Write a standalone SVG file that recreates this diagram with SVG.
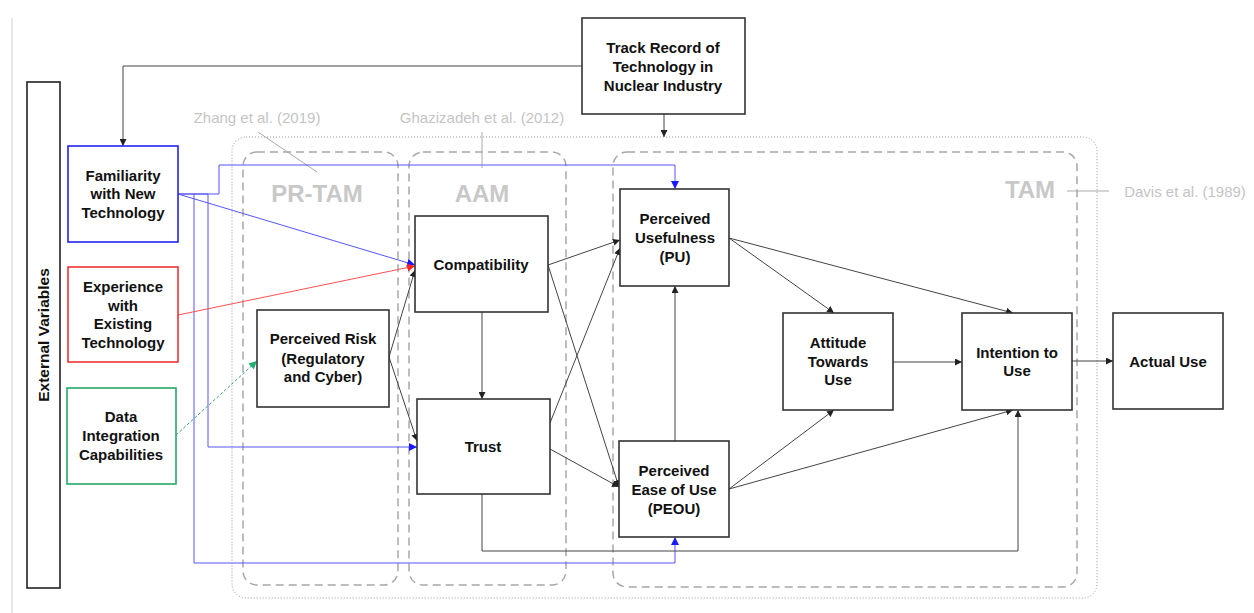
<svg xmlns="http://www.w3.org/2000/svg" width="1254" height="613" viewBox="0 0 1254 613">
<defs>
<marker id="ak" viewBox="0 0 10 10" refX="10" refY="5" markerWidth="7" markerHeight="7" orient="auto" markerUnits="userSpaceOnUse"><path d="M0,0 L10,5 L0,10 z" fill="#222"/></marker>
<marker id="ab" viewBox="0 0 10 10" refX="10" refY="5" markerWidth="8" markerHeight="8" orient="auto" markerUnits="userSpaceOnUse"><path d="M0,0 L10,5 L0,10 z" fill="#1a1aff"/></marker>
<marker id="ar" viewBox="0 0 10 10" refX="10" refY="5" markerWidth="8" markerHeight="8" orient="auto" markerUnits="userSpaceOnUse"><path d="M0,0 L10,5 L0,10 z" fill="#ff2020"/></marker>
<marker id="ag" viewBox="0 0 10 10" refX="10" refY="5" markerWidth="8" markerHeight="8" orient="auto" markerUnits="userSpaceOnUse"><path d="M0,0 L10,5 L0,10 z" fill="#20b070"/></marker>
</defs>
<style>
.box{fill:#fff;stroke:#333;stroke-width:1.6}
.t{font-family:"Liberation Sans",Arial,sans-serif;font-weight:bold;font-size:15px;fill:#111;text-anchor:middle}
.lab{font-family:"Liberation Sans",Arial,sans-serif;font-weight:bold;font-size:24px;fill:#c8c8c8;text-anchor:middle}
.cit{font-family:"Liberation Sans",Arial,sans-serif;font-size:15px;fill:#c4c4c4;text-anchor:middle}
.dash{fill:none;stroke:#a8a8a8;stroke-width:1.5;stroke-dasharray:8 5}
.c{fill:none;stroke:#444;stroke-width:1}
.cb{fill:none;stroke:#5555ff;stroke-width:1}
</style>
<rect width="1254" height="613" fill="#fff"/>
<line x1="12" y1="18" x2="12" y2="613" stroke="#d0d0d0" stroke-width="1"/>

<g id="frames">
<rect x="232" y="137" width="865" height="461" rx="14" fill="none" stroke="#999" stroke-width="1" stroke-dasharray="1 2"/>
<rect id="pr-tam" x="243" y="152" width="155" height="433" rx="14" class="dash"/>
<rect id="aam" x="409" y="152" width="157" height="433" rx="14" class="dash"/>
<rect id="tam" x="613" y="152" width="464" height="435" rx="14" class="dash"/>
<text class="lab" x="317" y="202">PR-TAM</text>
<text class="lab" x="482" y="202">AAM</text>
<text class="lab" x="1030" y="198">TAM</text>
<text class="cit" x="257" y="123">Zhang et al. (2019)</text>
<text class="cit" x="482" y="123">Ghazizadeh et al. (2012)</text>
<text class="cit" x="1185" y="197">Davis et al. (1989)</text>
<line x1="258" y1="132" x2="317" y2="172" stroke="#aaa" stroke-width="1"/>
<line x1="482" y1="132" x2="482" y2="168" stroke="#aaa" stroke-width="1"/>
<line x1="1067" y1="191" x2="1109" y2="191" stroke="#aaa" stroke-width="1"/>
</g>

<g id="connectors">
<path class="c" d="M582,66 H123 V146" marker-end="url(#ak)"/>
<path class="c" d="M664,114 V137" marker-end="url(#ak)"/>
<path class="cb" d="M178,194 H219 V165 H675 V189" marker-end="url(#ab)"/>
<path class="cb" d="M178,194 L415,265" marker-end="url(#ab)"/>
<path class="cb" d="M178,194 H208 V447 H417" marker-end="url(#ab)"/>
<path class="cb" d="M194,194 V563 H675 V537" marker-end="url(#ab)"/>
<path d="M178,315 L415,266" fill="none" stroke="#ff5050" stroke-width="1" marker-end="url(#ar)"/>
<path d="M176,435 L257,361" fill="none" stroke="#40a080" stroke-width="1" stroke-dasharray="3 2" marker-end="url(#ag)"/>
<path class="c" d="M389,357 L415,270" marker-end="url(#ak)"/>
<path class="c" d="M389,357 L417,441" marker-end="url(#ak)"/>
<path class="c" d="M482,312 V399" marker-end="url(#ak)"/>
<path class="c" d="M548,265 L620,240" marker-end="url(#ak)"/>
<path class="c" d="M548,265 L619,487" marker-end="url(#ak)"/>
<path class="c" d="M550,423 L620,248" marker-end="url(#ak)"/>
<path class="c" d="M550,449 L619,487" marker-end="url(#ak)"/>
<path class="c" d="M482,494 V551 H1018 V410" marker-end="url(#ak)"/>
<path class="c" d="M675,441 V286" marker-end="url(#ak)"/>
<path class="c" d="M729,238 L834,313" marker-end="url(#ak)"/>
<path class="c" d="M729,238 L1013,313" marker-end="url(#ak)"/>
<path class="c" d="M893,362 H962" marker-end="url(#ak)"/>
<path class="c" d="M729,489 L834,410" marker-end="url(#ak)"/>
<path class="c" d="M729,489 L1013,410" marker-end="url(#ak)"/>
<path class="c" d="M1072,361 H1113" marker-end="url(#ak)"/>
</g>

<g id="external-variables">
<rect x="27" y="82" width="33" height="506" fill="#fff" stroke="#222" stroke-width="1.6"/>
<text class="t" transform="translate(49,335) rotate(-90)" style="font-size:15.5px">External Variables</text>
</g>
<g id="familiarity">
<rect x="68" y="146" width="110" height="96" fill="#fff" stroke="#2222ee" stroke-width="1.6"/>
<text class="t" x="123" y="181">Familiarity</text>
<text class="t" x="123" y="199">with New</text>
<text class="t" x="123" y="218">Technology</text>
</g>
<g id="experience">
<rect x="68" y="267" width="110" height="95" fill="#fff" stroke="#ee3333" stroke-width="1.6"/>
<text class="t" x="123" y="292">Experience</text>
<text class="t" x="123" y="311">with</text>
<text class="t" x="123" y="329">Existing</text>
<text class="t" x="123" y="348">Technology</text>
</g>
<g id="data-integration">
<rect x="67" y="388" width="109" height="96" fill="#fff" stroke="#22aa66" stroke-width="1.6"/>
<text class="t" x="121" y="422">Data</text>
<text class="t" x="121" y="441">Integration</text>
<text class="t" x="121" y="460">Capabilities</text>
</g>
<g id="perceived-risk">
<rect class="box" x="257" y="310" width="132" height="97"/>
<text class="t" x="323" y="344">Perceived Risk</text>
<text class="t" x="323" y="364">(Regulatory</text>
<text class="t" x="323" y="382">and Cyber)</text>
</g>
<g id="compatibility">
<rect class="box" x="415" y="216" width="133" height="96"/>
<text class="t" x="481" y="270">Compatibility</text>
</g>
<g id="trust">
<rect class="box" x="417" y="399" width="133" height="95"/>
<text class="t" x="483" y="452">Trust</text>
</g>
<g id="track-record">
<rect class="box" x="582" y="18" width="163" height="96"/>
<text class="t" x="663" y="53">Track Record of</text>
<text class="t" x="663" y="72">Technology in</text>
<text class="t" x="663" y="91">Nuclear Industry</text>
</g>
<g id="pu">
<rect class="box" x="620" y="189" width="109" height="97"/>
<text class="t" x="675" y="224">Perceived</text>
<text class="t" x="675" y="243">Usefulness</text>
<text class="t" x="675" y="262">(PU)</text>
</g>
<g id="peou">
<rect class="box" x="619" y="441" width="110" height="96"/>
<text class="t" x="674" y="476">Perceived</text>
<text class="t" x="674" y="495">Ease of Use</text>
<text class="t" x="674" y="514">(PEOU)</text>
</g>
<g id="attitude">
<rect class="box" x="783" y="313" width="110" height="97"/>
<text class="t" x="838" y="348">Attitude</text>
<text class="t" x="838" y="367">Towards</text>
<text class="t" x="838" y="385">Use</text>
</g>
<g id="intention">
<rect class="box" x="962" y="313" width="110" height="97"/>
<text class="t" x="1017" y="358">Intention to</text>
<text class="t" x="1017" y="376">Use</text>
</g>
<g id="actual-use">
<rect class="box" x="1113" y="313" width="110" height="96"/>
<text class="t" x="1168" y="367">Actual Use</text>
</g>
</svg>
